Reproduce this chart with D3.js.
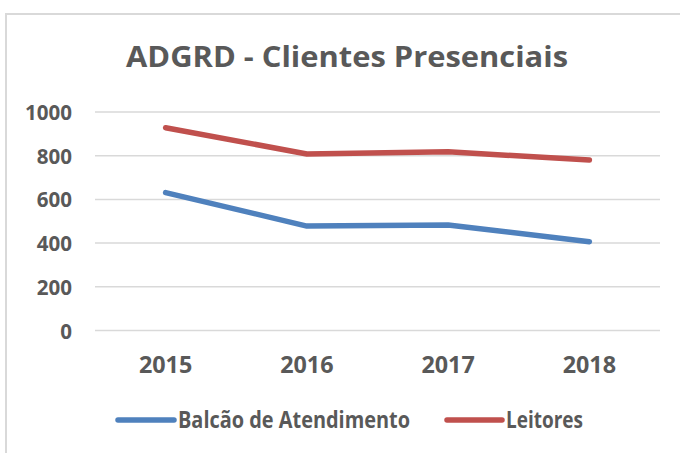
<!DOCTYPE html>
<html>
<head>
<meta charset="utf-8">
<script src="https://cdn.jsdelivr.net/npm/d3@7"></script>
<style>
  html, body { margin: 0; padding: 0; background: #ffffff; }
  svg { display: block; }
  text { font-family: "Open Sans", "Liberation Sans", sans-serif; font-weight: 700; fill: #595959; }
</style>
</head>
<body>
<svg id="chart" width="680" height="453"></svg>
<script>
const title = "ADGRD - Clientes Presenciais";
const years = ["2015", "2016", "2017", "2018"];
const yTicks = [0, 200, 400, 600, 800, 1000];
const seriesNames = ["Balcão de Atendimento", "Leitores"];
const balcao = [631, 478, 483, 406];
const leitores = [928, 808, 818, 780];
const colors = ["#4f81bd", "#c0504d"];

const svg = d3.select("#chart");

// chart border (only top/left visible in frame)
svg.append("rect")
  .attr("x", 6).attr("y", 14).attr("width", 700).attr("height", 460)
  .attr("fill", "none").attr("stroke", "#d9d9d9").attr("stroke-width", 2);

const x = d3.scaleBand().domain(years).range([95, 660]).padding(0);
const y = d3.scaleLinear().domain([0, 1000]).range([330.5, 112]);

function fitGroup(sel, refWidth, refText) {
  const nodes = sel.nodes();
  const ref = nodes.find(n => n.textContent === refText) || nodes[0];
  const ratio = refWidth / ref.getComputedTextLength();
  nodes.forEach(n => {
    const w = n.getComputedTextLength();
    d3.select(n).attr("textLength", w * ratio).attr("lengthAdjust", "spacingAndGlyphs");
  });
}

// gridlines
svg.append("g").selectAll("line").data(yTicks).join("line")
  .attr("x1", 95).attr("x2", 660)
  .attr("y1", d => y(d)).attr("y2", d => y(d))
  .attr("stroke", "#d9d9d9").attr("stroke-width", 1.5);

// y tick labels
const yl = svg.append("g").selectAll("text").data(yTicks).join("text")
  .attr("x", 72).attr("y", d => y(d) + 8)
  .attr("text-anchor", "end")
  .style("font-size", "21px")
  .text(d => d);
fitGroup(yl, 47, "1000");

// x labels
const xl = svg.append("g").selectAll("text").data(years).join("text")
  .attr("x", d => x(d) + x.bandwidth() / 2).attr("y", 373.3)
  .attr("text-anchor", "middle")
  .style("font-size", "23.4px")
  .text(d => d);
fitGroup(xl, 53.4, "2015");

// lines
const line = d3.line().x((d, i) => x(years[i]) + x.bandwidth() / 2).y(d => y(d));
[balcao, leitores].forEach((s, i) => {
  svg.append("path").datum(s)
    .attr("d", line)
    .attr("fill", "none")
    .attr("stroke", colors[i])
    .attr("stroke-width", 5.5)
    .attr("stroke-linecap", "round")
    .attr("stroke-linejoin", "round");
});

// title
const t = svg.append("text")
  .attr("x", 347).attr("y", 66.7)
  .attr("text-anchor", "middle")
  .style("font-size", "28px")
  .text(title);
fitGroup(t, 442, title);

// legend
const legendItems = [
  { name: seriesNames[0], color: colors[0], x1: 118, x2: 174, tx: 178, w: 232 },
  { name: seriesNames[1], color: colors[1], x1: 447, x2: 502, tx: 506, w: 77 }
];
legendItems.forEach(it => {
  svg.append("line")
    .attr("x1", it.x1).attr("x2", it.x2).attr("y1", 420).attr("y2", 420)
    .attr("stroke", it.color).attr("stroke-width", 5.5).attr("stroke-linecap", "round");
  const lt = svg.append("text")
    .attr("x", it.tx).attr("y", 427.7)
    .style("font-size", "24px")
    .text(it.name);
  fitGroup(lt, it.w, it.name);
});
</script>
</body>
</html>
